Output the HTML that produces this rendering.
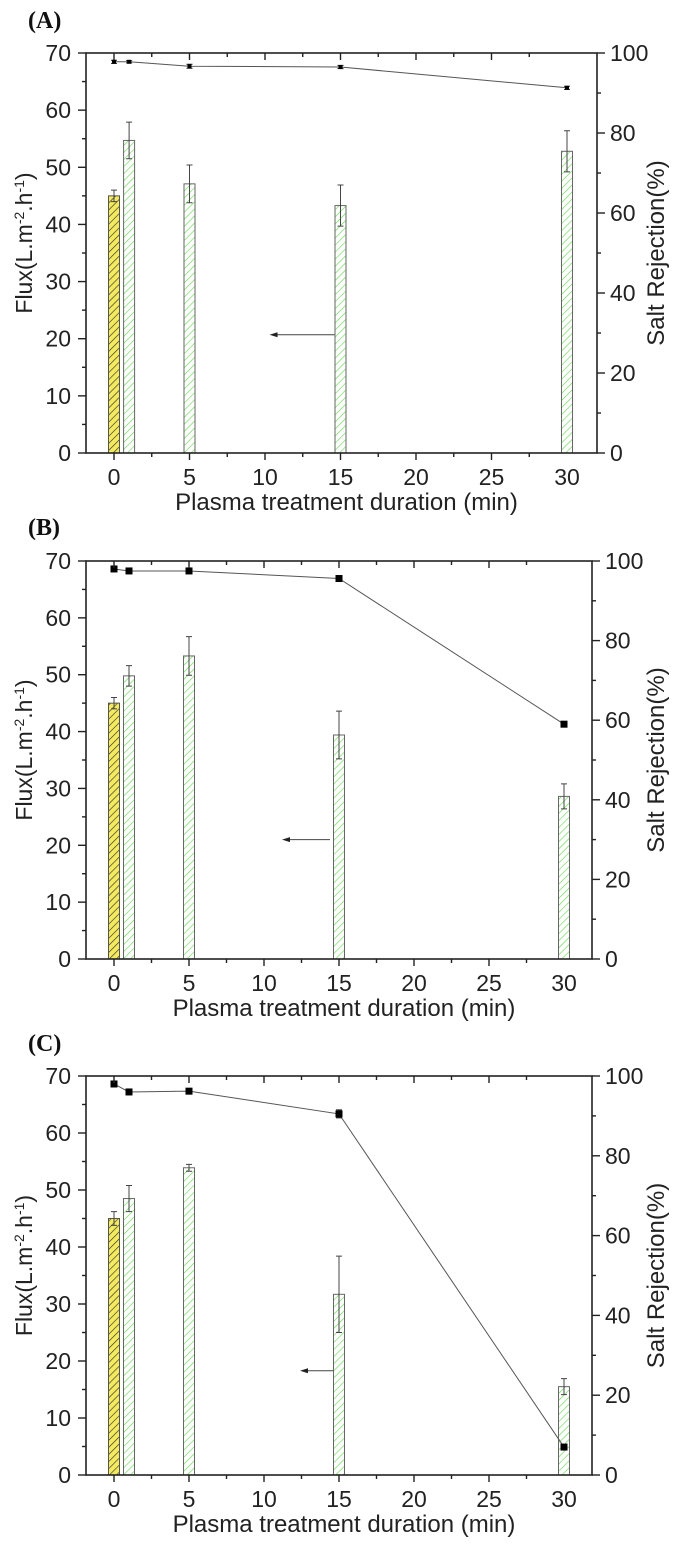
<!DOCTYPE html>
<html><head><meta charset="utf-8"><style>
html,body{margin:0;padding:0;background:#fff;}
svg{display:block;font-family:"Liberation Sans",Arial,sans-serif;}
</style></head><body>
<svg id="chart" width="675" height="1547" viewBox="0 0 675 1547">
<defs>
<pattern id="hatchY" patternUnits="userSpaceOnUse" width="5" height="5" patternTransform="rotate(45)">
<rect width="5" height="5" fill="#f4ea5e"/><line x1="0" y1="0" x2="0" y2="5" stroke="#333" stroke-width="1.3"/></pattern>
<pattern id="hatchG" patternUnits="userSpaceOnUse" width="5" height="5" patternTransform="rotate(45)">
<rect width="5" height="5" fill="#fff"/><line x1="0" y1="0" x2="0" y2="5" stroke="#5fd84a" stroke-width="1.2"/></pattern>
</defs>
</svg>
<script>
// ---- data ----
const panelLabels = ["(A)", "(B)", "(C)"];
const xTickLabels = ["0", "5", "10", "15", "20", "25", "30"];
const fluxTickLabels = ["0", "10", "20", "30", "40", "50", "60", "70"];
const rejTickLabels = ["0", "20", "40", "60", "80", "100"];
const controlFlux = [45, 45, 45];
const controlFluxErr = [1.0, 1.0, 1.2];
const treatTimes = [1, 5, 15, 30];
const fluxA = [54.7, 47.1, 43.3, 52.8];
const fluxErrA = [3.2, 3.3, 3.6, 3.6];
const fluxB = [49.8, 53.3, 39.4, 28.6];
const fluxErrB = [1.8, 3.4, 4.2, 2.2];
const fluxC = [48.5, 53.9, 31.7, 15.5];
const fluxErrC = [2.3, 0.6, 6.7, 1.4];
const rejTimes = [0, 1, 5, 15, 30];
const rejA = [97.8, 97.8, 96.7, 96.5, 91.3];
const rejB = [98.0, 97.5, 97.5, 95.6, 59.0];
const rejC = [98.0, 96.0, 96.2, 90.5, 7.0];
const rejErrC = [0, 0, 0, 1.0, 0];
const arrowFlux = [20.7, 21.0, 18.3];
const arrowFrom = [14.6, 14.4, 14.6];
const arrowTo = [10.3, 11.2, 12.4];

const fluxSets = [fluxA, fluxB, fluxC];
const fluxErrSets = [fluxErrA, fluxErrB, fluxErrC];
const rejSets = [rejA, rejB, rejC];
const rejErrSets = [[0.4,0.3,0.5,0.4,0.4], [0,0,0,0,0], rejErrC];

// ---- layout ----
const panels = [
  {top:53, bottom:453, left:86, right:597, x0:114, ppm:15.1, lab:20, mk:4},
  {top:561, bottom:959, left:86, right:592, x0:114, ppm:15.0, lab:527, mk:7},
  {top:1076, bottom:1475, left:86, right:592, x0:114, ppm:15.0, lab:1043, mk:7}
];
const svg = document.getElementById('chart');
const NS = "http://www.w3.org/2000/svg";
function mk(tag, attrs, parent){
  const e = document.createElementNS(NS, tag);
  for (const k in attrs) e.setAttribute(k, attrs[k]);
  (parent||svg).appendChild(e);
  return e;
}
panels.forEach((p, i) => {
  const g = mk('g', {});
  
  
  const X = t => p.x0 + t * p.ppm;
  const YF = v => p.bottom - v / 70 * (p.bottom - p.top);
  const YR = v => p.bottom - v / 100 * (p.bottom - p.top);
  const lab = mk('text', {x:28, y:p.lab+8, 'font-family':'Liberation Serif,serif', 'font-weight':'bold', 'font-size':24, fill:'#111'}, g);
  lab.textContent = panelLabels[i];
  
  
  // bars
  const cb = mk('rect', {x:X(0)-5.5, y:YF(controlFlux[i]), width:11, height:p.bottom-YF(controlFlux[i]), fill:'url(#hatchY)', stroke:'#555', 'stroke-width':1}, g);
  
  
  const eb = (t, v, e, name) => {
    const x = X(t), y1 = YF(v + e), y2 = YF(v - e);
    const pth = mk('path', {d:`M${x},${y1}V${y2}M${x-3},${y1}H${x+3}M${x-3},${y2}H${x+3}`, stroke:'#444', 'stroke-width':1, fill:'none'}, g);
    
    
  };
  eb(0, controlFlux[i], controlFluxErr[i], 'error-bar-control');
  treatTimes.forEach((t, j) => {
    const v = fluxSets[i][j];
    const r = mk('rect', {x:X(t)-5.5, y:YF(v), width:11, height:p.bottom-YF(v), fill:'url(#hatchG)', stroke:'#666', 'stroke-width':1}, g);
    
    
    eb(t, v, fluxErrSets[i][j], 'error-bar-' + t + 'min');
  });
  // rejection line
  const pts = rejTimes.map((t, j) => X(t) + ',' + YR(rejSets[i][j])).join(' ');
  const pl = mk('polyline', {points:pts, fill:'none', stroke:'#555', 'stroke-width':1}, g);
  
  
  rejTimes.forEach((t, j) => {
    const v = rejSets[i][j], e = rejErrSets[i][j];
    if (e > 0) {
      const x = X(t), y1 = YR(v+e), y2 = YR(v-e);
      const pe = mk('path', {d:`M${x},${y1}V${y2}M${x-3},${y1}H${x+3}M${x-3},${y2}H${x+3}`, stroke:'#222', 'stroke-width':1}, g);
      
      
    }
    const m = mk('rect', {x:X(t)-p.mk/2, y:YR(v)-p.mk/2, width:p.mk, height:p.mk, fill:'#000'}, g);
    
    
  });
  // arrow
  const ay = YF(arrowFlux[i]), ax1 = X(arrowFrom[i]), ax2 = X(arrowTo[i]);
  const ar = mk('path', {d:`M${ax1},${ay}H${ax2+6}`, stroke:'#444', 'stroke-width':1}, g);
  
  
  const ah = mk('path', {d:`M${ax2},${ay}L${ax2+8},${ay-2.5}L${ax2+8},${ay+2.5}Z`, fill:'#222'}, g);
  
  
  // frame
  const fr = mk('rect', {x:p.left, y:p.top, width:p.right-p.left, height:p.bottom-p.top, fill:'none', stroke:'#222', 'stroke-width':1.6}, g);
  
  
  // x ticks
  for (let k = 0; k <= 12; k++) {
    const t = -2.5 + k * 2.5;
    if (t < -1.9 || t > 31.9) continue;
    const x = X(t), major = (k % 2 === 1);
    mk('path', {d:`M${x},${p.bottom}V${p.bottom + (major?7:4)}M${x},${p.top}V${p.top + (major?7:4)}`, stroke:'#222', 'stroke-width':1.4}, g);
  }
  xTickLabels.forEach((s, k) => {
    const tl = mk('text', {x:X(k*5), y:p.bottom+32, 'font-size':23, 'text-anchor':'middle', fill:'#222'}, g);
    tl.textContent = s;
    
    
  });
  const xt = mk('text', {x:(p.left+p.right)/2 + 5, y:p.bottom+57, 'font-size':24, 'text-anchor':'middle', fill:'#222'}, g);
  xt.textContent = 'Plasma treatment duration (min)';
  
  
  // left ticks
  for (let v = 0; v <= 70; v += 5) {
    const y = YF(v), major = v % 10 === 0;
    mk('path', {d:`M${p.left},${y}H${p.left - (major?8:4)}`, stroke:'#222', 'stroke-width':1.4}, g);
  }
  fluxTickLabels.forEach((s, k) => {
    const tl = mk('text', {x:p.left-15, y:YF(k*10)+8, 'font-size':23, 'text-anchor':'end', fill:'#222'}, g);
    tl.textContent = s;
    
    
  });
  const yc = (p.top + p.bottom) / 2 - 10;
  const yt = mk('text', {x:0, y:0, 'font-size':23, 'text-anchor':'middle', fill:'#222', transform:`translate(32,${yc}) rotate(-90)`}, g);
  yt.innerHTML = 'Flux(L.m<tspan dy="-8" font-size="14">-2</tspan><tspan dy="8">.h</tspan><tspan dy="-8" font-size="14">-1</tspan><tspan dy="8">)</tspan>';
  
  
  // right ticks
  for (let v = 0; v <= 100; v += 10) {
    const y = YR(v), major = v % 20 === 0;
    mk('path', {d:`M${p.right},${y}H${p.right + (major?8:4)}`, stroke:'#222', 'stroke-width':1.4}, g);
  }
  rejTickLabels.forEach((s, k) => {
    const tl = mk('text', {x:p.right+13, y:YR(k*20)+8, 'font-size':23, 'text-anchor':'start', fill:'#222'}, g);
    tl.textContent = s;
    
    
  });
  const rt = mk('text', {x:0, y:0, 'font-size':24, 'text-anchor':'middle', fill:'#222', transform:`translate(664,${(p.top+p.bottom)/2}) rotate(-90)`}, g);
  rt.textContent = 'Salt Rejection(%)';
  
  
});
</script>
</body></html>
